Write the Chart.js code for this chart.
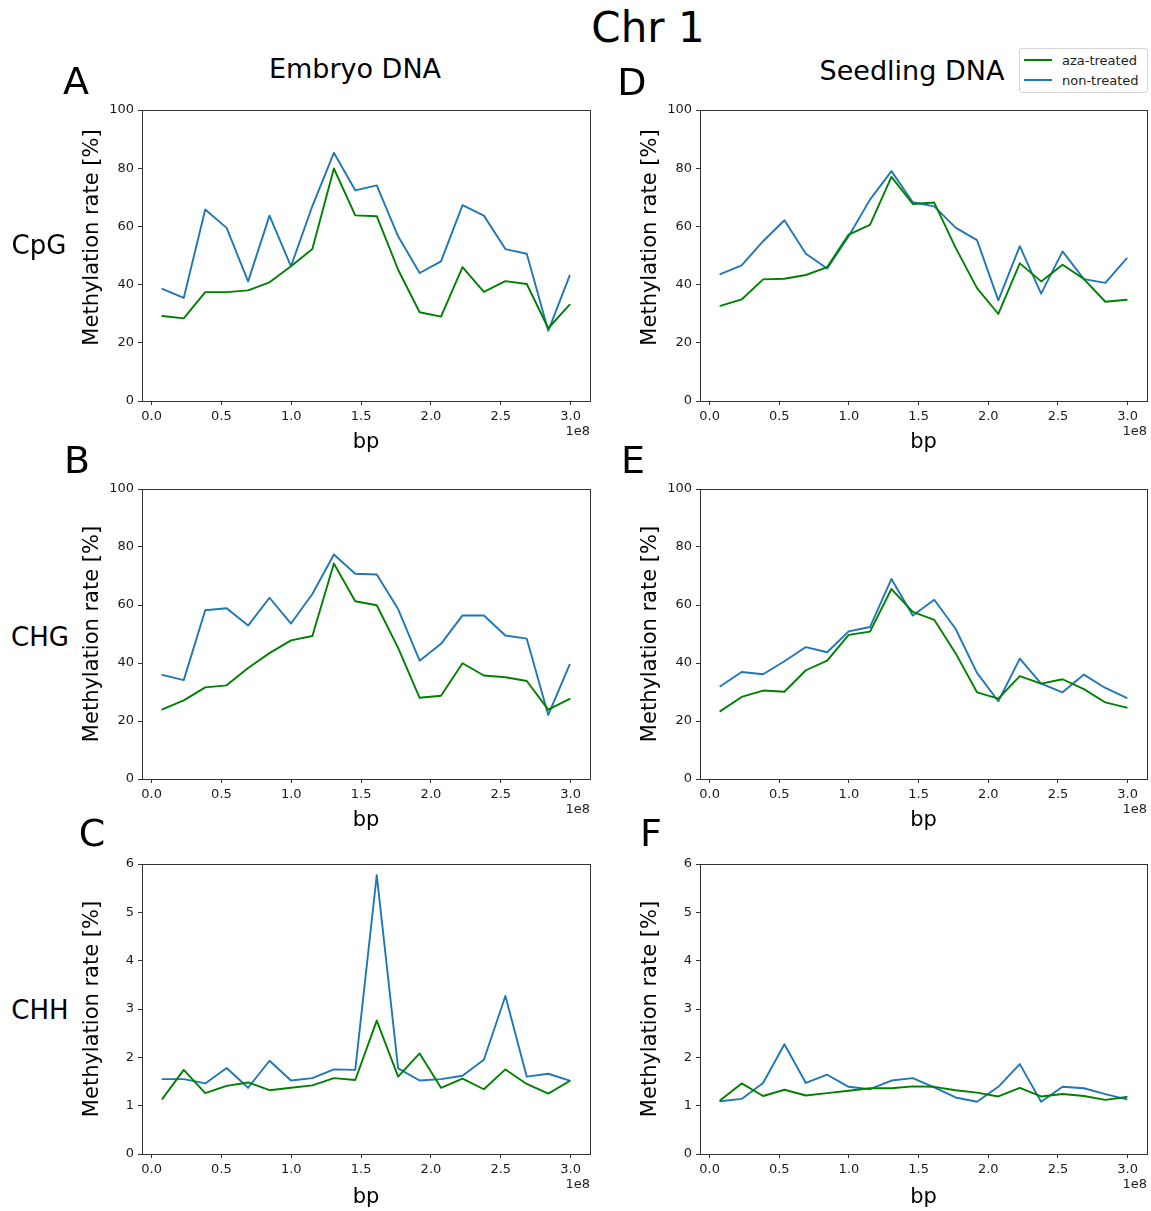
<!DOCTYPE html>
<html lang="en">
<head>
  <meta charset="UTF-8" />
  <title>Chr 1 methylation</title>
  <script src="https://cdn.jsdelivr.net/npm/chart.js"></script>
  <style>
    body { margin: 0; background: #fff; font-family: "DejaVu Sans", sans-serif; }
    #fig { position: relative; width: 1151px; height: 1211px; overflow: hidden; }
    canvas { position: absolute; }
    .t { position: absolute; transform: translate(-50%, -50%); white-space: nowrap; line-height: 1; color: #000; }
    .lg { position: absolute; transform: translateY(-50%); white-space: nowrap; line-height: 1; font-size: 13px; color: #222; }
    .sw { position: absolute; width: 28px; height: 2px; }
  </style>
</head>
<body>
<div id="fig">
  <canvas id="pA" width="524" height="363" style="left:70px;top:98px"></canvas>
  <canvas id="pD" width="523" height="363" style="left:628px;top:98px"></canvas>
  <canvas id="pB" width="524" height="362" style="left:70px;top:477px"></canvas>
  <canvas id="pE" width="523" height="362" style="left:628px;top:477px"></canvas>
  <canvas id="pC" width="524" height="362" style="left:70px;top:852px"></canvas>
  <canvas id="pF" width="523" height="362" style="left:628px;top:852px"></canvas>

  <div class="t" style="left:648px;top:28px;font-size:42px">Chr 1</div>
  <div class="t" style="left:355px;top:68px;font-size:27px">Embryo DNA</div>
  <div class="t" style="left:912px;top:70px;font-size:27px">Seedling DNA</div>

  <div class="t" style="left:76px;top:81px;font-size:38px">A</div>
  <div class="t" style="left:632px;top:82px;font-size:38px">D</div>
  <div class="t" style="left:77px;top:460px;font-size:38px">B</div>
  <div class="t" style="left:633px;top:460px;font-size:38px">E</div>
  <div class="t" style="left:92px;top:833px;font-size:38px">C</div>
  <div class="t" style="left:651px;top:833px;font-size:38px">F</div>

  <div class="t" style="left:39px;top:245px;font-size:26px">CpG</div>
  <div class="t" style="left:40px;top:637px;font-size:26px">CHG</div>
  <div class="t" style="left:40px;top:1010px;font-size:26px">CHH</div>

  <div style="position:absolute;left:1019px;top:48px;width:127px;height:43px;border:1px solid #d4d4d4;border-radius:3px;background:#fff">
    <div class="sw" style="left:4px;top:10px;background:#008000"></div>
    <div class="lg" style="left:42px;top:11px">aza-treated</div>
    <div class="sw" style="left:4px;top:30px;background:#1f77b4"></div>
    <div class="lg" style="left:42px;top:31px">non-treated</div>
  </div>
</div>

<script>
  // bin centres along chromosome 1, in Mb
  const binCentres = [7.7, 23.0, 38.4, 53.7, 69.1, 84.4, 99.8, 115.1, 130.5, 145.8,
                      161.2, 176.5, 191.9, 207.2, 222.6, 237.9, 253.3, 268.6, 284.0, 299.3];

  const embryoCpgAza = [29.2, 28.4, 37.4, 37.4, 38.0, 40.8, 46.3, 52.2, 79.9, 63.8, 63.5, 45.1, 30.5, 29.0, 46.0, 37.5, 41.2, 40.2, 25.0, 33.1];
  const embryoCpgNon = [38.5, 35.4, 65.8, 59.5, 41.1, 63.7, 46.3, 67.0, 85.3, 72.4, 74.1, 56.6, 44.0, 48.0, 67.3, 63.7, 52.2, 50.6, 24.1, 43.1];
  const seedCpgAza   = [32.7, 34.9, 41.8, 42.0, 43.3, 46.0, 57.2, 60.5, 77.0, 67.7, 68.2, 52.7, 38.8, 29.9, 47.3, 41.1, 46.8, 41.9, 34.1, 34.8];
  const seedCpgNon   = [43.6, 46.6, 54.9, 62.1, 50.6, 45.5, 56.6, 69.2, 79.0, 68.3, 66.9, 59.6, 55.3, 34.6, 53.2, 36.9, 51.4, 41.9, 40.6, 49.0];

  const embryoChgAza = [24.0, 27.1, 31.6, 32.3, 38.3, 43.4, 47.8, 49.3, 74.3, 61.3, 59.9, 45.2, 28.0, 28.7, 39.9, 35.7, 35.1, 33.8, 23.9, 27.6];
  const embryoChgNon = [35.9, 34.1, 58.2, 58.9, 52.9, 62.5, 53.6, 63.8, 77.4, 70.8, 70.5, 58.6, 40.8, 46.6, 56.4, 56.4, 49.5, 48.4, 22.1, 39.4];
  const seedChgAza   = [23.4, 28.3, 30.5, 30.1, 37.5, 40.8, 49.7, 50.8, 65.5, 57.6, 54.9, 43.4, 29.9, 27.7, 35.5, 32.9, 34.4, 31.0, 26.4, 24.6];
  const seedChgNon   = [32.0, 36.9, 36.1, 40.6, 45.5, 43.7, 50.9, 52.4, 69.0, 56.4, 61.8, 51.8, 36.6, 26.8, 41.5, 32.9, 29.9, 36.0, 31.4, 28.0];

  const embryoChhAza = [1.14, 1.74, 1.26, 1.41, 1.48, 1.32, 1.37, 1.42, 1.57, 1.53, 2.76, 1.60, 2.08, 1.37, 1.56, 1.34, 1.75, 1.45, 1.25, 1.51];
  const embryoChhNon = [1.55, 1.55, 1.46, 1.78, 1.37, 1.93, 1.52, 1.57, 1.75, 1.74, 5.77, 1.77, 1.52, 1.55, 1.62, 1.95, 3.27, 1.60, 1.66, 1.52];
  const seedChhAza   = [1.11, 1.46, 1.20, 1.33, 1.21, 1.26, 1.31, 1.36, 1.36, 1.40, 1.39, 1.32, 1.27, 1.19, 1.37, 1.19, 1.24, 1.20, 1.12, 1.18];
  const seedChhNon   = [1.09, 1.14, 1.47, 2.27, 1.47, 1.64, 1.39, 1.34, 1.52, 1.57, 1.38, 1.17, 1.08, 1.39, 1.86, 1.08, 1.39, 1.36, 1.24, 1.13];

  const xTicks = [0, 0.5e8, 1.0e8, 1.5e8, 2.0e8, 2.5e8, 3.0e8];
  const pctTicks = [0, 20, 40, 60, 80, 100];
  const chhTicks = [0, 1, 2, 3, 4, 5, 6];

  Chart.defaults.font.family = '"DejaVu Sans", sans-serif';

  // full box round the axes, the y label and the offset text
  const frame = {
    id: 'frame',
    afterDraw(chart, args, opts) {
      const { ctx, chartArea: a } = chart;
      const l = Math.round(a.left) + 0.5, t = Math.round(a.top) + 0.5;
      const r = Math.round(a.right) + 0.5, b = Math.round(a.bottom) + 0.5;
      ctx.save();
      ctx.strokeStyle = '#333';
      ctx.lineWidth = 1;
      ctx.strokeRect(l, t, r - l, b - t);
      ctx.fillStyle = '#222';
      ctx.font = '13px "DejaVu Sans"';
      ctx.textAlign = 'right';
      ctx.textBaseline = 'middle';
      ctx.fillText('1e8', a.right, a.bottom + 31);
      ctx.translate(a.left - 49, (a.top + a.bottom) / 2 + opts.shift);
      ctx.rotate(-Math.PI / 2);
      ctx.fillStyle = '#000';
      ctx.font = '21px "DejaVu Sans"';
      ctx.textAlign = 'center';
      ctx.fillText('Methylation rate [%]', 0, 0);
      ctx.restore();
    }
  };

  const panels = [
    { id: 'pA', aza: embryoCpgAza, non: embryoCpgNon, ticks: pctTicks, shift: -18, pad: 5.4 },
    { id: 'pD', aza: seedCpgAza,   non: seedCpgNon,   ticks: pctTicks, shift: -18, pad: 5.4 },
    { id: 'pB', aza: embryoChgAza, non: embryoChgNon, ticks: pctTicks, shift: 0,   pad: 6 },
    { id: 'pE', aza: seedChgAza,   non: seedChgNon,   ticks: pctTicks, shift: 0,   pad: 6 },
    { id: 'pC', aza: embryoChhAza, non: embryoChhNon, ticks: chhTicks, shift: 0,   pad: 3.4 },
    { id: 'pF', aza: seedChhAza,   non: seedChhNon,   ticks: chhTicks, shift: 0,   pad: 3.4 },
  ];

  const toPoints = vals => binCentres.map((mb, i) => ({ x: mb * 1e6, y: vals[i] }));

  const tickFont = { family: '"DejaVu Sans"', size: 13 };
  const lineStyle = { borderWidth: 1.9, pointRadius: 0, tension: 0, fill: false, borderJoinStyle: 'round', borderCapStyle: 'round' };

  panels.forEach(p => {
    const yMax = p.ticks[p.ticks.length - 1];
    new Chart(document.getElementById(p.id), {
      type: 'line',
      data: {
        datasets: [
          { label: 'aza-treated', data: toPoints(p.aza), borderColor: '#008000', ...lineStyle },
          { label: 'non-treated', data: toPoints(p.non), borderColor: '#1f77b4', ...lineStyle },
        ],
      },
      options: {
        responsive: false,
        animation: false,
        events: [],
        layout: { padding: { top: 12, right: 4, left: 0, bottom: 0 } },
        plugins: { legend: { display: false }, tooltip: { enabled: false }, frame: { shift: p.shift } },
        scales: {
          x: {
            type: 'linear',
            min: -6.88e6,
            max: 313.88e6,
            afterBuildTicks: s => { s.ticks = xTicks.map(v => ({ value: v })); },
            afterFit: s => { s.height = 60; },
            border: { display: false },
            grid: { drawOnChartArea: false, drawTicks: true, tickLength: 4, color: '#333' },
            ticks: { callback: v => (v / 1e8).toFixed(1), color: '#1a1a1a', font: tickFont, padding: 4, maxRotation: 0, autoSkip: false },
            title: { display: true, text: 'bp', color: '#000', font: { family: '"DejaVu Sans"', size: 21 }, padding: { top: 0, bottom: p.pad } },
          },
          y: {
            min: 0,
            max: yMax,
            afterBuildTicks: s => { s.ticks = p.ticks.map(v => ({ value: v })); },
            afterFit: s => { s.width = 72; },
            border: { display: false },
            grid: { drawOnChartArea: false, drawTicks: true, tickLength: 4, color: '#333' },
            ticks: { color: '#1a1a1a', font: tickFont, padding: 4, autoSkip: false },
          },
        },
      },
      plugins: [frame],
    });
  });
</script>
</body>
</html>
